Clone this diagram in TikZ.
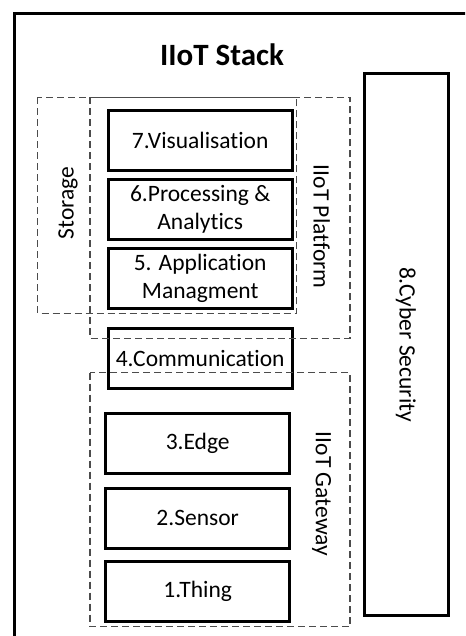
\documentclass[tikz,border=0pt]{standalone}
\usepackage{fontspec}
\setmainfont{Carlito}[Ligatures=NoCommon]
\usepackage{tikz}
\usetikzlibrary{positioning}
\tikzstyle{layer} = [rectangle, minimum width=184pt, minimum height=60pt, text centered, align=center, draw=black, line width=3pt, font=\fontsize{23.5}{28}\selectfont]
\tikzstyle{group} = [draw=black!70, line width=1.3pt, dash pattern=on 7pt off 4pt]
\tikzstyle{grouplabel} = [font=\fontsize{23.5}{28}\selectfont]

\begin{document}
\begin{tikzpicture}[x=1pt, y=-1pt]
    \clip (0,0) rectangle (465,636);
    \draw [line width=3pt] (14.5,680) -- (14.5,13.5) -- (490,13.5);
    \node (title) at (222,55) {\fontsize{31}{36}\selectfont\bfseries IIoT Stack};

    \node (vis) [layer] at (200.2,140.8) {7.Visualisation};
    \node (proc) [layer, below=5.7pt of vis] {6.Processing \&\\Analytics};
    \node (app) [layer, below=5.8pt of proc] {5. Application\\Managment};
    \node (comm) [layer, below=17.2pt of app] {4.Communication};
    \node (edge) [layer, below=22.3pt of comm, xshift=-2.5pt] {3.Edge};
    \node (sensor) [layer, below=11.5pt of edge] {2.Sensor};
    \node (thing) [layer, below=10.5pt of sensor] {1.Thing};
    \node (cyber) [draw=black, line width=3pt, minimum width=84pt, minimum height=541pt] at (406,344.5) {};
    \node (cyberlabel) [grouplabel, rotate=-90] at (cyber.center) {8.Cyber Security};

    \draw [group] (37.7,97.3) rectangle (296.7,313.3);
    \draw [group] (90,97.3) rectangle (350,338.3);
    \draw [group] (90,372.7) rectangle (350,626.7);
    \node (storage) [grouplabel, rotate=90] at (68,203) {Storage};
    \node (platform) [grouplabel, rotate=-90] at (321.7,226.7) {IIoT Platform};
    \node (gateway) [grouplabel, rotate=-90] at (321.7,494) {IIoT Gateway};
\end{tikzpicture}
\end{document}
